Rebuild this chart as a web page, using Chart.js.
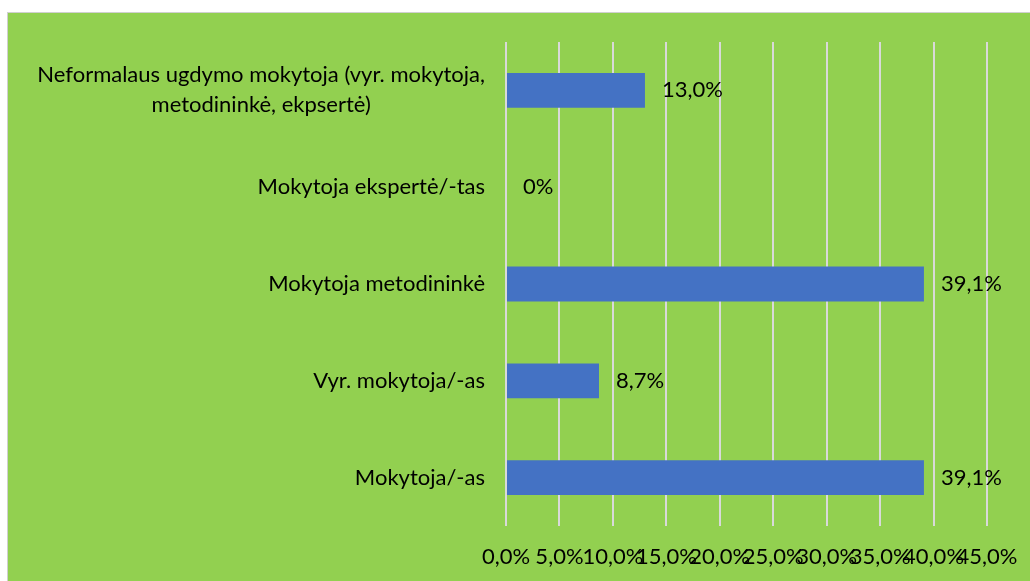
<!DOCTYPE html>
<html>
<head>
<meta charset="utf-8">
<script src="https://cdn.jsdelivr.net/npm/chart.js@4.4.1/dist/chart.umd.min.js"></script>
<style>
  html, body { margin: 0; padding: 0; background: #fff; overflow: hidden; }
  #box {
    position: absolute; left: 7px; top: 12px;
    width: 1023px; height: 569px;
    background: #92D050;
    border-left: 1px solid #D0D0D0; border-top: 1px solid #D0D0D0;
    box-sizing: border-box;
  }
  #box canvas { display: block; }
</style>
</head>
<body>
<div id="box"><canvas id="chart" width="1022" height="568"></canvas></div>
<script>
const categories = [
  ['Neformalaus ugdymo mokytoja (vyr. mokytoja,', 'metodininkė, ekpsertė)'],
  'Mokytoja ekspertė/-tas',
  'Mokytoja metodininkė',
  'Vyr. mokytoja/-as',
  'Mokytoja/-as'
];
const shares = [13.0, 0, 39.1, 8.7, 39.1];
const shareLabels = ['13,0%', '0%', '39,1%', '8,7%', '39,1%'];
const xTicks = [0, 5, 10, 15, 20, 25, 30, 35, 40, 45];

const FONT = 'Lato, "Open Sans", sans-serif';
const FONT_SIZE = 22;

// category labels drawn by hand so wrapped lines can be centred like Excel does
const catLabels = {
  id: 'catLabels',
  afterDraw(chart) {
    const ctx = chart.ctx;
    const y = chart.scales.y;
    const right = chart.chartArea.left - 21;
    ctx.save();
    ctx.font = FONT_SIZE + 'px ' + FONT;
    ctx.fillStyle = '#000';
    ctx.textBaseline = 'middle';
    categories.forEach((lab, i) => {
      const cy = y.getPixelForValue(i);
      if (Array.isArray(lab)) {
        const w = Math.max(...lab.map(s => ctx.measureText(s).width));
        const cx = right - w / 2;
        const lh = 30;
        ctx.textAlign = 'center';
        lab.forEach((s, k) => {
          ctx.fillText(s, cx, cy + (k - (lab.length - 1) / 2) * lh);
        });
      } else {
        ctx.textAlign = 'right';
        ctx.fillText(lab, right, cy);
      }
    });
    ctx.restore();
  }
};

const valueLabels = {
  id: 'valueLabels',
  afterDatasetsDraw(chart) {
    const ctx = chart.ctx;
    const meta = chart.getDatasetMeta(0);
    ctx.save();
    ctx.font = FONT_SIZE + 'px ' + FONT;
    ctx.fillStyle = '#000';
    ctx.textAlign = 'left';
    ctx.textBaseline = 'middle';
    meta.data.forEach((bar, i) => {
      ctx.fillText(shareLabels[i], bar.x + 17, bar.y);
    });
    ctx.restore();
  }
};

new Chart(document.getElementById('chart'), {
  type: 'bar',
  data: {
    labels: categories,
    datasets: [{
      data: shares,
      backgroundColor: '#4472C4',
      borderWidth: 0,
      categoryPercentage: 1,
      barPercentage: 0.36
    }]
  },
  options: {
    indexAxis: 'y',
    responsive: false,
    animation: false,
    layout: { padding: { top: 29, right: 43, left: 0, bottom: 0 } },
    plugins: { legend: { display: false }, tooltip: { enabled: false } },
    scales: {
      x: {
        min: 0, max: 45,
        afterBuildTicks(scale) { scale.ticks = xTicks.map(v => ({ value: v })); },
        afterFit(scale) {
          scale.height = 55;
          scale.paddingLeft = 0;
          scale.paddingRight = 0;
        },
        grid: { color: '#D9D9D9', lineWidth: 2, drawTicks: false },
        border: { display: false },
        ticks: {
          autoSkip: false, maxRotation: 0, minRotation: 0, padding: 18,
          color: '#000',
          font: { family: FONT, size: FONT_SIZE },
          callback: v => v.toFixed(1).replace('.', ',') + '%'
        }
      },
      y: {
        afterFit(scale) { scale.width = 498; },
        grid: { display: false },
        border: { display: false },
        ticks: { display: false }
      }
    }
  },
  plugins: [catLabels, valueLabels]
});
</script>
</body>
</html>
